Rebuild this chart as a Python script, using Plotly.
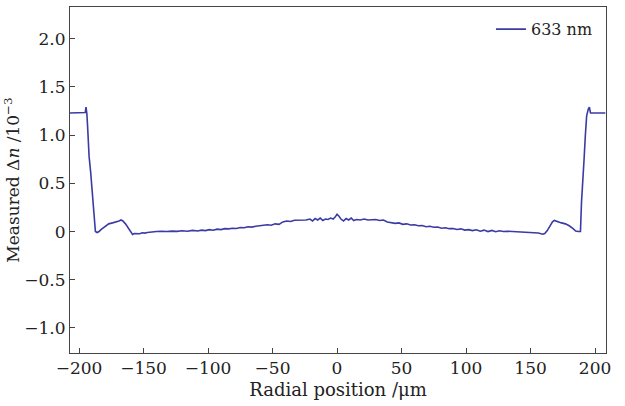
import plotly.graph_objects as go

x_um = [-208, -205, -201, -198, -196, -195.2, -194.6, -193.9, -193.2, -192.2, -191.0, -190.0, -189.0, -188.0,
        -187.3, -186, -184.5, -183, -180, -177, -174, -171, -169, -167.5, -166, -164, -162, -160, -158.5,
        -157, -155, -153, -151, -149, -147, -145, -140, -136, -132, -128, -124, -120, -116, -112, -108,
        -105, -102, -99, -96, -93, -90, -87, -84, -81, -78, -75, -72, -69, -66, -63, -60, -57, -54, -51,
        -48, -45, -42, -39, -36, -33, -30, -27, -24, -21, -19, -17, -15, -13, -11, -9, -7, -5, -3, -1.5,
        0, 1.5, 3, 5, 7, 9, 11, 13, 15, 18, 21, 24, 27, 30, 33, 36, 39, 42, 45, 48, 51, 54, 57, 60, 63,
        66, 69, 72, 75, 78, 81, 84, 87, 90, 93, 96, 99, 102, 105, 108, 111, 114, 117, 120, 123, 126, 129,
        132, 136, 140, 144, 148, 152, 156, 159.5, 161, 163, 165, 167, 168.5, 171, 174, 177, 180, 183, 185,
        187, 188.7, 189.5, 190.5, 191.5, 192.5, 193.5, 194.8, 195.6, 196.5, 200, 205, 208]
dn = [1.23, 1.23, 1.23, 1.23, 1.23, 1.235, 1.29, 1.22, 1.05, 0.78, 0.62, 0.46, 0.3, 0.12,
      0.0, -0.01, 0.0, 0.02, 0.05, 0.08, 0.09, 0.1, 0.11, 0.12, 0.11, 0.08, 0.04, 0.01, -0.03,
      -0.02, -0.02, -0.022, -0.012, -0.016, -0.01, -0.005, 0.0, 0.003, 0.0, 0.005, 0.002, 0.008, 0.004, 0.012, 0.006,
      0.015, 0.01, 0.02, 0.014, 0.025, 0.02, 0.03, 0.028, 0.035, 0.032, 0.042, 0.04, 0.05, 0.046, 0.055, 0.06, 0.058, 0.07, 0.066,
      0.08, 0.075, 0.1, 0.11, 0.105, 0.118, 0.12, 0.115, 0.12, 0.13, 0.11, 0.135, 0.12, 0.14, 0.115, 0.13, 0.125, 0.14, 0.13, 0.15,
      0.18, 0.16, 0.13, 0.11, 0.135, 0.12, 0.14, 0.115, 0.125, 0.12, 0.13, 0.12, 0.12, 0.125, 0.115, 0.12, 0.1, 0.095, 0.085, 0.09, 0.075, 0.08, 0.068, 0.07, 0.06,
      0.062, 0.05, 0.055, 0.045, 0.047, 0.035, 0.04, 0.03, 0.032, 0.022, 0.028, 0.015, 0.02, 0.01, 0.018, 0.004, 0.015, 0.0, 0.012, -0.002, 0.008, 0.0,
      0.003, 0.0, -0.003, -0.005, -0.01, -0.012, -0.015, -0.028, -0.02, 0.01, 0.06, 0.1, 0.115, 0.1, 0.09, 0.08, 0.06, 0.03, 0.005,
      0.0, 0.0, 0.3, 0.6, 0.75, 1.0, 1.2, 1.27, 1.29, 1.23, 1.23, 1.23, 1.23]

x_ticks = [-200, -150, -100, -50, 0, 50, 100, 150, 200]
x_tick_text = ["\u2212200", "\u2212150", "\u2212100", "\u221250", "0", "50", "100", "150", "200"]
y_ticks = [-1.0, -0.5, 0, 0.5, 1.0, 1.5, 2.0]
y_tick_text = ["\u22121.0", "\u22120.5", "0", "0.5", "1.0", "1.5", "2.0"]

FONT = "DejaVu Serif"
fig = go.Figure()
fig.add_trace(go.Scatter(x=x_um, y=dn, mode="lines", name="633 nm",
                         line=dict(color="#3b3ba6", width=1.6)))

fig.update_layout(
    width=625, height=406,
    margin=dict(l=70, r=19, t=7, b=53),
    paper_bgcolor="white", plot_bgcolor="white",
    font=dict(family=FONT, size=17, color="#222"),
    showlegend=True,
    legend=dict(x=0.985, y=0.985, xanchor="right", yanchor="top",
                bgcolor="rgba(0,0,0,0)", font=dict(size=16, family=FONT),
                tracegroupgap=0),
)
fig.update_xaxes(range=[-207, 208.5], tickvals=x_ticks, ticktext=x_tick_text,
                 ticks="inside", ticklen=5, tickcolor="#444",
                 showline=True, linecolor="#444", linewidth=1, mirror=True,
                 showgrid=False, zeroline=False,
                 tickfont=dict(size=17),
                 title=dict(text="Radial position /\u03bcm", standoff=5, font=dict(size=18)))
fig.update_yaxes(range=[-1.26, 2.33], tickvals=y_ticks, ticktext=y_tick_text,
                 ticks="inside", ticklen=5, tickcolor="#444",
                 showline=True, linecolor="#444", linewidth=1, mirror=True,
                 showgrid=False, zeroline=False,
                 tickfont=dict(size=17),
                 title=dict(text="Measured \u0394<i>n</i> /10<sup>\u22123</sup>", standoff=0, font=dict(size=17)))

fig.write_html("out.html")
